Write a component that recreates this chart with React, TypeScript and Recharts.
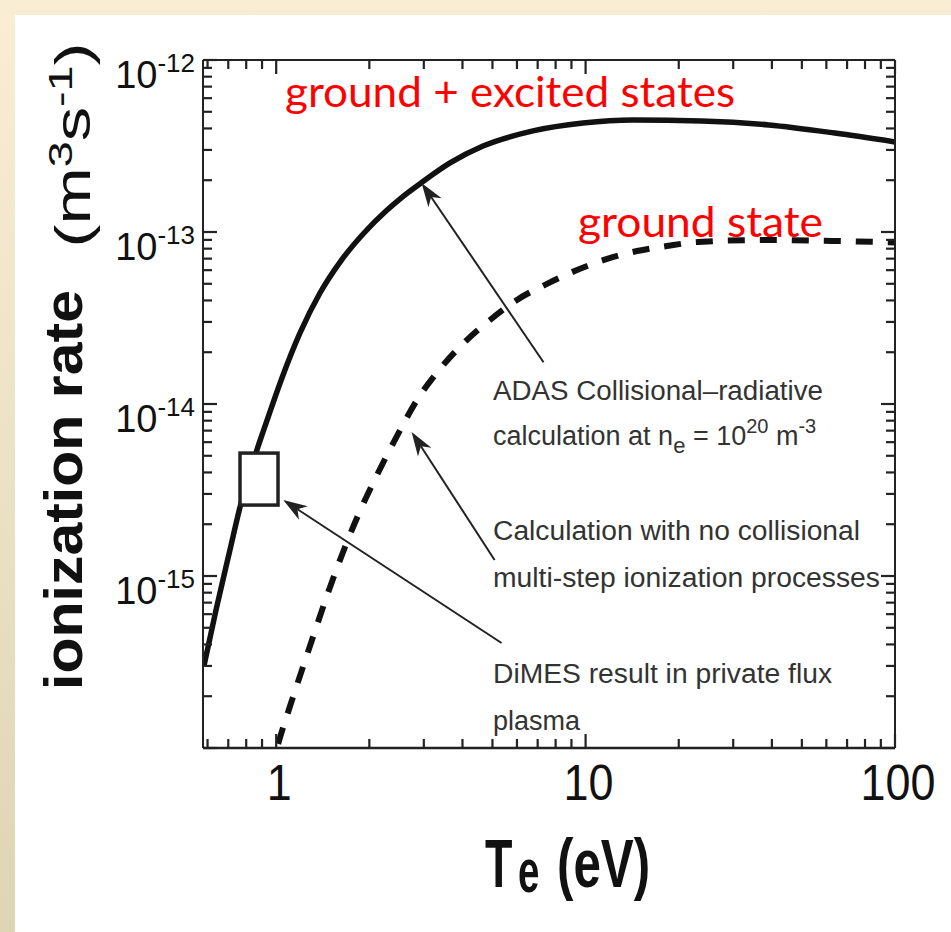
import React from 'react';
import { ComposedChart, Line, Scatter, XAxis, YAxis, ReferenceLine } from 'recharts';

// electron temperature (eV) and ionization rate (m^3 s^-1)
const fullT = [0.585, 0.639, 0.705, 0.77, 0.862, 0.928, 1.038, 1.194, 1.385, 1.608, 1.922, 2.264, 2.532, 2.938, 3.646, 4.66, 6.76, 9.81, 14.23, 23.7, 39.1, 63.9, 100];
const fullRate = [3.04e-16, 6.34e-16, 1.36e-15, 2.66e-15, 5.26e-15, 7.76e-15, 1.38e-14, 2.59e-14, 4.42e-14, 6.69e-14, 9.87e-14, 1.325e-13, 1.576e-13, 1.927e-13, 2.52e-13, 3.16e-13, 3.87e-13, 4.3e-13, 4.48e-13, 4.42e-13, 4.19e-13, 3.76e-13, 3.34e-13];

const groundT = [0.955, 1.006, 1.125, 1.239, 1.355, 1.47, 1.669, 1.866, 2.118, 2.458, 2.852, 3.383, 4.138, 4.91, 6.0, 7.5, 9.38, 11.73, 14.66, 18.33, 23.08, 36.6, 63.1, 100];
const groundRate = [6.97e-17, 1.0e-16, 1.9e-16, 3.21e-16, 5.19e-16, 7.97e-16, 1.475e-15, 2.39e-15, 3.87e-15, 6.52e-15, 1.055e-14, 1.6e-14, 2.36e-14, 3.08e-14, 4.03e-14, 4.99e-14, 6.01e-14, 6.97e-14, 7.75e-14, 8.29e-14, 8.75e-14, 8.98e-14, 8.87e-14, 8.7e-14];

// DiMES measurement (open square)
const dimesT = [0.88];
const dimesRate = [3.66e-15];

// annotation arrows: [tailT, tailRate, tipT, tipRate]
const arrowADAS = [7.31, 1.75e-14, 2.95, 1.93e-13];
const arrowNoColl = [5.08, 1.24e-15, 2.74, 6.87e-15];
const arrowDimes = [5.35, 4.08e-16, 1.054, 2.77e-15];

const xMajor = [1, 10, 100];
const xTicks = [0.6, 0.7, 0.8, 0.9, 1, 2, 3, 4, 5, 6, 7, 8, 9, 10, 20, 30, 40, 50, 60, 70, 80, 90, 100];
const yMajor = [1e-16, 1e-15, 1e-14, 1e-13, 1e-12];
const yExp: Record<string, string> = { '1e-15': '-15', '1e-14': '-14', '1e-13': '-13', '1e-12': '-12' };
const yTicks = [-16, -15, -14, -13].flatMap((e) => [1, 2, 3, 4, 5, 6, 7, 8, 9].map((k) => Number(`${k}e${e}`))).concat([1e-12]);

const fullData = fullT.map((T, i) => ({ T, v: fullRate[i] }));
const groundData = groundT.map((T, i) => ({ T, v: groundRate[i] }));
const dimesData = dimesT.map((T, i) => ({ T, v: dimesRate[i] }));
const seg = (a: number[]) => [{ x: a[0], y: a[1] }, { x: a[2], y: a[3] }] as any;

const INK = '#222';
const FONT = '"Liberation Sans", Arial, sans-serif';
const TICK_W = 2.2;

const BottomTick = ({ x, y, payload }: any) => {
  const major = xMajor.includes(payload.value);
  return (
    <g>
      <line x1={x} y1={y} x2={x} y2={y - (major ? 14 : 9)} stroke={INK} strokeWidth={TICK_W} />
      {major && (
        <text x={x + 3} y={y + 52} textAnchor="middle" fontSize={50} fontFamily={FONT} fill="#111"
          textLength={String(payload.value).length * 25} lengthAdjust="spacingAndGlyphs">
          {payload.value}
        </text>
      )}
    </g>
  );
};

const TopTick = ({ x, y, payload }: any) => {
  const major = xMajor.includes(payload.value);
  return <line x1={x} y1={y} x2={x} y2={y + (major ? 14 : 9)} stroke={INK} strokeWidth={TICK_W} />;
};

const LeftTick = ({ x, y, payload }: any) => {
  const major = yMajor.includes(payload.value);
  const exp = yExp[String(payload.value)];
  return (
    <g>
      <line x1={x} y1={y} x2={x + (major ? 14 : 9)} y2={y} stroke={INK} strokeWidth={TICK_W} />
      {exp && (
        <text x={x - 8} y={y + 28} textAnchor="end" fontFamily={FONT} fill="#111">
          <tspan fontSize={38}>10</tspan>
          <tspan fontSize={26} dy={-16}>{exp}</tspan>
        </text>
      )}
    </g>
  );
};

const RightTick = ({ x, y, payload }: any) => {
  const major = yMajor.includes(payload.value);
  return <line x1={x} y1={y} x2={x - (major ? 14 : 9)} y2={y} stroke={INK} strokeWidth={TICK_W} />;
};

const Arrow = (props: any) => {
  const { x1, y1, x2, y2 } = props;
  const a = Math.atan2(y2 - y1, x2 - x1);
  const L = 24;
  const W = 8;
  const bx = x2 - L * Math.cos(a);
  const by = y2 - L * Math.sin(a);
  const nx = x2 - (L - 7) * Math.cos(a);
  const ny = y2 - (L - 7) * Math.sin(a);
  const px = -Math.sin(a) * W;
  const py = Math.cos(a) * W;
  return (
    <g>
      <line x1={x1} y1={y1} x2={nx} y2={ny} stroke={INK} strokeWidth={2} />
      <polygon points={`${x2},${y2} ${bx + px},${by + py} ${nx},${ny} ${bx - px},${by - py}`} fill={INK} />
    </g>
  );
};

const Square = ({ cx, cy }: any) => (
  <rect x={cx - 19} y={cy - 26} width={38} height={52} fill="#fff" stroke={INK} strokeWidth={3.5} />
);

const Titles = () => (
  <g>
    <text x={82} y={490} transform="rotate(-90, 82, 490)" textAnchor="middle" fontSize={54} fontWeight="bold"
      fontFamily={FONT} fill="#111" textLength={400} lengthAdjust="spacingAndGlyphs">ionization rate</text>
    <text x={90} y={145} transform="rotate(-90, 90, 145)" textAnchor="middle" fontSize={50} fontFamily={FONT} fill="#111"
      textLength={205} lengthAdjust="spacingAndGlyphs">
      (m<tspan fontSize={34} dy={-18}>3</tspan><tspan dy={18}>s</tspan><tspan fontSize={34} dy={-18}>-1</tspan><tspan dy={18}>)</tspan>
    </text>

    {/* condensed bold x title: T, subscript e, (eV) */}
    <g fontWeight="bold" fontFamily={FONT} fill="#111">
      <g transform="translate(485, 887) scale(0.66, 1)"><text x={0} y={0} fontSize={68}>T</text></g>
      <g transform="translate(518, 892) scale(0.62, 1)"><text x={0} y={0} fontSize={62}>e</text></g>
      <g transform="translate(557, 887) scale(0.725, 1)"><text x={0} y={0} fontSize={68}>(eV)</text></g>
    </g>

    <text x={285} y={107} fontSize={42} fontFamily="Lato, sans-serif" fill="#ff0000" textLength={450} lengthAdjust="spacingAndGlyphs">ground + excited states</text>
    <text x={578} y={237} fontSize={42} fontFamily="Lato, sans-serif" fill="#ff0000" textLength={245} lengthAdjust="spacingAndGlyphs">ground state</text>

    <g fontFamily={FONT} fontSize={27} fill="#333">
      <text x={493} y={400} textLength={330} lengthAdjust="spacingAndGlyphs">ADAS Collisional–radiative</text>
      <text x={493} y={445}>
        calculation at n<tspan fontSize={22} dy={8}>e</tspan><tspan dy={-8}> = 10</tspan><tspan fontSize={20} dy={-12}>20</tspan><tspan dy={12}> m</tspan><tspan fontSize={20} dy={-12}>-3</tspan>
      </text>
      <text x={493} y={540} textLength={367} lengthAdjust="spacingAndGlyphs">Calculation with no collisional</text>
      <text x={493} y={587} textLength={387} lengthAdjust="spacingAndGlyphs">multi-step ionization processes</text>
      <text x={493} y={683} textLength={339} lengthAdjust="spacingAndGlyphs">DiMES result in private flux</text>
      <text x={493} y={730}>plasma</text>
    </g>
  </g>
);

export default function App() {
  return (
    <div style={{ position: 'absolute', left: 0, top: 0, width: 951, height: 932, background: 'linear-gradient(to bottom, #f9eed4, #ded5b5)' }}>
      <div style={{ position: 'absolute', left: 15, top: 15, right: 0, bottom: 0, background: '#fff' }} />
      <div style={{ position: 'absolute', left: 0, top: 0 }}>
        <ComposedChart width={951} height={932} margin={{ top: 30, right: 26, bottom: 154, left: 143 }}>
          <XAxis xAxisId={0} dataKey="T" type="number" scale="log" domain={[0.58, 100]} allowDataOverflow
            ticks={xTicks} interval={0} tick={<BottomTick />} tickLine={false} tickSize={0} tickMargin={0} height={30}
            axisLine={{ stroke: INK, strokeWidth: 2.5 }} label={<Titles />} />
          <XAxis xAxisId="top" orientation="top" dataKey="T" type="number" scale="log" domain={[0.58, 100]} allowDataOverflow
            ticks={xTicks} interval={0} tick={<TopTick />} tickLine={false} tickSize={0} tickMargin={0} height={30}
            axisLine={{ stroke: INK, strokeWidth: 2 }} />
          <YAxis yAxisId={0} type="number" scale="log" domain={[1e-16, 1e-12]} allowDataOverflow
            ticks={yTicks} interval={0} tick={<LeftTick />} tickLine={false} tickSize={0} tickMargin={0} width={60}
            axisLine={{ stroke: INK, strokeWidth: 2 }} />
          <YAxis yAxisId="right" orientation="right" type="number" scale="log" domain={[1e-16, 1e-12]} allowDataOverflow
            ticks={yTicks} interval={0} tick={<RightTick />} tickLine={false} tickSize={0} tickMargin={0} width={30}
            axisLine={{ stroke: INK, strokeWidth: 2 }} />

          <Line data={fullData} dataKey="v" type="monotone" stroke="#111" strokeWidth={5.5} dot={false} isAnimationActive={false} />
          <Line data={groundData} dataKey="v" type="monotone" stroke="#111" strokeWidth={6} strokeDasharray="17 15" dot={false} isAnimationActive={false} />
          <Scatter data={dimesData} dataKey="v" shape={<Square />} isAnimationActive={false} />

          <ReferenceLine segment={seg(arrowADAS)} shape={<Arrow />} />
          <ReferenceLine segment={seg(arrowNoColl)} shape={<Arrow />} />
          <ReferenceLine segment={seg(arrowDimes)} shape={<Arrow />} />
        </ComposedChart>
      </div>
    </div>
  );
}
